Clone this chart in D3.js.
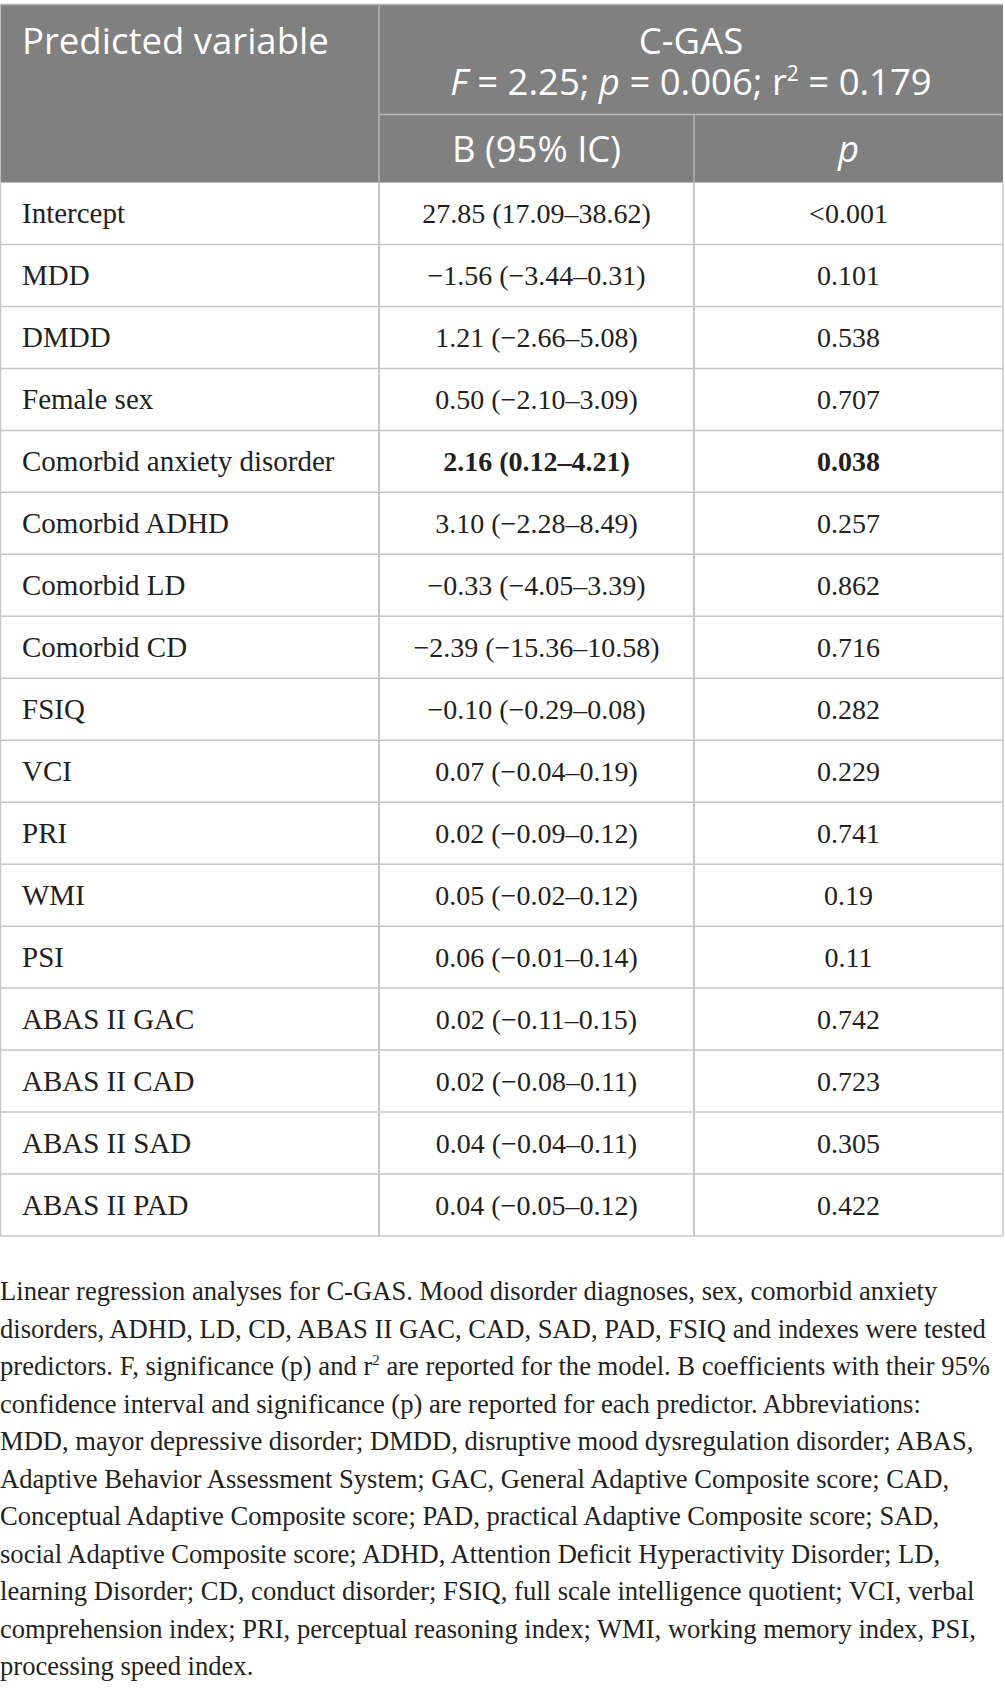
<!DOCTYPE html>
<html>
<head>
<meta charset="utf-8">
<script src="https://cdn.jsdelivr.net/npm/d3@7"></script>
<style>
  body { margin: 0; background: #fff; }
  .hdr { font-family: "Open Sans", sans-serif; fill: #fff; }
  .cell { font-family: "Liberation Serif", serif; fill: #231f20; }
  .caption { font-family: "Liberation Serif", serif; fill: #231f20; }
</style>
</head>
<body>
<div id="table"></div>
<script>
// table values
var predictors = ["Intercept", "MDD", "DMDD", "Female sex", "Comorbid anxiety disorder",
  "Comorbid ADHD", "Comorbid LD", "Comorbid CD", "FSIQ", "VCI", "PRI", "WMI", "PSI",
  "ABAS II GAC", "ABAS II CAD", "ABAS II SAD", "ABAS II PAD"];
var bCoef = [27.85, -1.56, 1.21, 0.50, 2.16, 3.10, -0.33, -2.39, -0.10, 0.07, 0.02, 0.05, 0.06, 0.02, 0.02, 0.04, 0.04];
var ciLow = [17.09, -3.44, -2.66, -2.10, 0.12, -2.28, -4.05, -15.36, -0.29, -0.04, -0.09, -0.02, -0.01, -0.11, -0.08, -0.04, -0.05];
var ciHigh = [38.62, 0.31, 5.08, 3.09, 4.21, 8.49, 3.39, 10.58, 0.08, 0.19, 0.12, 0.12, 0.14, 0.15, 0.11, 0.11, 0.12];
var pVals = ["<0.001", "0.101", "0.538", "0.707", "0.038", "0.257", "0.862", "0.716", "0.282",
  "0.229", "0.741", "0.19", "0.11", "0.742", "0.723", "0.305", "0.422"];
var significant = ["Comorbid anxiety disorder"];

var captionLines = [
  "Linear regression analyses for C-GAS. Mood disorder diagnoses, sex, comorbid anxiety",
  "disorders, ADHD, LD, CD, ABAS II GAC, CAD, SAD, PAD, FSIQ and indexes were tested",
  "predictors. F, significance (p) and r|2| are reported for the model. B coefficients with their 95%",
  "confidence interval and significance (p) are reported for each predictor. Abbreviations:",
  "MDD, mayor depressive disorder; DMDD, disruptive mood dysregulation disorder; ABAS,",
  "Adaptive Behavior Assessment System; GAC, General Adaptive Composite score; CAD,",
  "Conceptual Adaptive Composite score; PAD, practical Adaptive Composite score; SAD,",
  "social Adaptive Composite score; ADHD, Attention Deficit Hyperactivity Disorder; LD,",
  "learning Disorder; CD, conduct disorder; FSIQ, full scale intelligence quotient; VCI, verbal",
  "comprehension index; PRI, perceptual reasoning index; WMI, working memory index, PSI,",
  "processing speed index."
];

var W = 1005, H = 1688;
var tableLeft = 0.5, tableRight = 1003, col1 = 379, col2 = 694;
var headTop = 4.5, subLine = 114.5, headBottom = 182.5, tableBottom = 1236;
var grey = "#7f807f", lineCol = "#c6c6c6", headLine = "#b4b4b4";
var hdrSize = "36.5px";

var fmt = d3.format(".2f");

var svg = d3.select("#table").append("svg")
    .attr("width", W)
    .attr("height", H);

var y = d3.scaleBand()
    .domain(predictors)
    .range([headBottom, tableBottom]);

// header block
svg.append("rect")
    .attr("x", tableLeft).attr("y", headTop)
    .attr("width", tableRight - tableLeft).attr("height", headBottom - headTop)
    .attr("fill", grey);

svg.append("line")
    .attr("x1", tableLeft).attr("x2", tableRight)
    .attr("y1", headTop).attr("y2", headTop)
    .attr("stroke", headLine).attr("stroke-width", 1.5);
svg.append("line")
    .attr("x1", col1).attr("x2", tableRight)
    .attr("y1", subLine).attr("y2", subLine)
    .attr("stroke", headLine).attr("stroke-width", 1.5);
svg.append("line")
    .attr("x1", col1).attr("x2", col1)
    .attr("y1", headTop).attr("y2", tableBottom)
    .attr("stroke", headLine).attr("stroke-width", 1.5);
svg.append("line")
    .attr("x1", col2).attr("x2", col2)
    .attr("y1", subLine).attr("y2", tableBottom)
    .attr("stroke", headLine).attr("stroke-width", 1.5);

svg.append("text").attr("class", "hdr")
    .attr("x", 22).attr("y", 54)
    .style("font-size", hdrSize)
    .text("Predicted variable");

// two-line header cell: title + model stats
var mid = (col1 + tableRight) / 2;
var head2 = svg.append("text").attr("class", "hdr")
    .attr("x", mid).attr("y", 54)
    .attr("text-anchor", "middle")
    .style("font-size", hdrSize);
head2.append("tspan").attr("x", mid).text("C-GAS");
var stat = head2.append("tspan").attr("x", mid).attr("dy", 41);
stat.append("tspan").style("font-style", "italic").text("F");
stat.append("tspan").text(" = 2.25; ");
stat.append("tspan").style("font-style", "italic").text("p");
stat.append("tspan").text(" = 0.006; r");
stat.append("tspan").attr("dy", -14).style("font-size", "21px").text("2");
stat.append("tspan").attr("dy", 14).text(" = 0.179");

svg.append("text").attr("class", "hdr")
    .attr("x", (col1 + col2) / 2).attr("y", 162)
    .attr("text-anchor", "middle")
    .style("font-size", hdrSize)
    .text("B (95% IC)");
svg.append("text").attr("class", "hdr")
    .attr("x", (col2 + tableRight) / 2).attr("y", 162)
    .attr("text-anchor", "middle")
    .style("font-size", hdrSize)
    .style("font-style", "italic")
    .text("p");

// body rows
var rows = svg.selectAll("g.row")
    .data(predictors)
  .enter().append("g")
    .attr("class", "row")
    .attr("transform", function(d) { return "translate(0," + y(d) + ")"; });

rows.append("line")
    .attr("x1", tableLeft).attr("x2", tableRight)
    .attr("y1", y.bandwidth()).attr("y2", y.bandwidth())
    .attr("stroke", lineCol).attr("stroke-width", 1.5);

rows.append("text").attr("class", "cell")
    .attr("x", 22)
    .attr("y", y.bandwidth() / 2 + 10)
    .style("font-size", "29px")
    .text(function(d) { return d; });

rows.append("text").attr("class", "cell")
    .attr("x", (col1 + col2) / 2)
    .attr("y", y.bandwidth() / 2 + 10)
    .attr("text-anchor", "middle")
    .style("font-size", "28px")
    .style("font-weight", function(d) { return significant.indexOf(d) >= 0 ? "bold" : "normal"; })
    .text(function(d, i) { return fmt(bCoef[i]) + " (" + fmt(ciLow[i]) + "\u2013" + fmt(ciHigh[i]) + ")"; });

rows.append("text").attr("class", "cell")
    .attr("x", (col2 + tableRight) / 2)
    .attr("y", y.bandwidth() / 2 + 10)
    .attr("text-anchor", "middle")
    .style("font-size", "28px")
    .style("font-weight", function(d) { return significant.indexOf(d) >= 0 ? "bold" : "normal"; })
    .text(function(d, i) { return pVals[i]; });

// outer borders of the body
svg.append("line")
    .attr("x1", tableLeft).attr("x2", tableLeft)
    .attr("y1", headBottom).attr("y2", tableBottom)
    .attr("stroke", lineCol).attr("stroke-width", 1.5);
svg.append("line")
    .attr("x1", tableRight).attr("x2", tableRight)
    .attr("y1", headBottom).attr("y2", tableBottom)
    .attr("stroke", lineCol).attr("stroke-width", 1.5);

// caption
var cap = svg.append("g");
captionLines.forEach(function(line, i) {
  var t = cap.append("text").attr("class", "caption")
      .attr("x", 0)
      .attr("y", 1300 + i * 37.5)
      .style("font-size", "26.6px");
  var parts = line.split("|");
  t.append("tspan").text(parts[0]);
  if (parts.length > 1) {
    t.append("tspan").attr("dy", -10).style("font-size", "15px").text(parts[1]);
    t.append("tspan").attr("dy", 10).text(parts[2]);
  }
});
</script>
</body>
</html>
